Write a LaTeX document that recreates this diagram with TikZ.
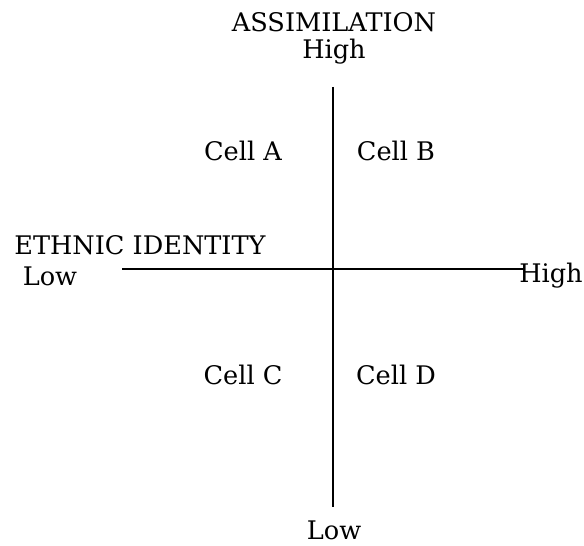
\documentclass[tikz,border=0pt]{standalone}
\usepackage{fontspec}
\setmainfont{DejaVu Serif}
\begin{document}
\begin{tikzpicture}[x=0.75pt,y=-0.75pt,every node/.style={font=\fontsize{19.2}{22}\selectfont,inner sep=0pt},axis/.style={line width=1.5pt}]
  \useasboundingbox (0,0) rectangle (584,545);
  \node (assim) at (334,22) {ASSIMILATION};
  \node (ahigh) at (334,52) {High};
  \node (alow) at (334,530) {Low};
  \node (ethnic) at (140,245) {ETHNIC IDENTITY};
  \node (elow) at (50,276) {Low};
  \node (ehigh) at (551,276) {High};
  \coordinate (vtop) at (333,87);
  \coordinate (vbot) at (333,507);
  \coordinate (hleft) at (122,269);
  \coordinate (hright) at (525,269);
  \draw[axis] (vtop) -- (vbot);
  \draw[axis] (hleft) -- (hright);
  \node (cella) at (243,151) {Cell A};
  \node (cellb) at (396,151) {Cell B};
  \node (cellc) at (243,375) {Cell C};
  \node (celld) at (396,375) {Cell D};
\end{tikzpicture}
\end{document}
